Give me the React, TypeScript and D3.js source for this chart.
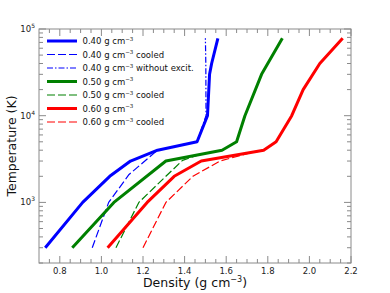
import React from "react";
import * as d3 from "d3";

// density (g cm^-3) vs temperature (K)
const blue = [[0.73, 300], [0.91, 1000], [1.04, 2000], [1.14, 3000], [1.27, 4000], [1.46, 5000], [1.51, 10000], [1.52, 30000], [1.53, 40000], [1.56, 78000]];
const blueCooled = [[0.956, 300], [1.035, 1000], [1.133, 2100], [1.27, 4000]];
const blueNoExcit = [[1.46, 5000], [1.503, 10000], [1.502, 40000], [1.5, 78000]];
const green = [[0.86, 300], [1.06, 1000], [1.31, 3000], [1.58, 4000], [1.65, 5000], [1.69, 10000], [1.77, 30000], [1.87, 78000]];
const greenCooled = [[1.07, 300], [1.18, 1000], [1.31, 2000], [1.39, 3050], [1.47, 3550], [1.58, 4000]];
const red = [[1.03, 300], [1.22, 1000], [1.35, 2000], [1.48, 3000], [1.78, 4000], [1.84, 5000], [1.915, 10000], [1.97, 20000], [2.05, 40000], [2.16, 78000]];
const redCooled = [[1.2, 300], [1.31, 1000], [1.44, 2000], [1.57, 3000], [1.7, 3650], [1.78, 4000]];

const legendLabels = ["0.40 g cm", "0.40 g cm", "0.40 g cm", "0.50 g cm", "0.50 g cm", "0.60 g cm", "0.60 g cm"];
const legendSuffix = ["", " cooled", " without excit.", "", " cooled", "", " cooled"];
const xTicks = [0.8, 1.0, 1.2, 1.4, 1.6, 1.8, 2.0, 2.2];
const yTicks = [3, 4, 5];

const W = 390, H = 293;
const m = { left: 39, right: 39, top: 29, bottom: 30 };

export default function App() {
  const x = d3.scaleLinear().domain([0.7, 2.2]).range([m.left, W - m.right]);
  const y = d3.scaleLog().domain([200, 1e5]).range([H - m.bottom, m.top]);
  const line = d3.line<number[]>().x((d) => x(d[0])).y((d) => y(d[1]));

  const series = [
    { data: blue, color: "#0000ff", w: 3, dash: "none" },
    { data: blueCooled, color: "#0000ff", w: 1.2, dash: "8,3" },
    { data: blueNoExcit, color: "#0000ff", w: 1.2, dash: "6,2,1.5,2" },
    { data: green, color: "#008000", w: 3, dash: "none" },
    { data: greenCooled, color: "#008000", w: 1.2, dash: "8,3" },
    { data: red, color: "#ff0000", w: 3, dash: "none" },
    { data: redCooled, color: "#ff0000", w: 1.2, dash: "8,3" },
  ];

  const x0 = m.left, x1 = W - m.right, y0 = m.top, y1 = H - m.bottom;
  const axisColor = "#8a8a8a";

  const xMinor = d3.range(0.75, 2.2, 0.05).filter((v) => Math.abs(v * 5 - Math.round(v * 5)) > 0.01);
  const yMinor: number[] = [];
  [100, 1000, 10000].forEach((b) => {
    for (let k = 2; k <= 9; k++) if (b * k >= 200) yMinor.push(b * k);
  });

  return (
    <div style={{ position: "absolute", left: 0, top: 0 }}>
      <svg width={W} height={H} style={{ display: "block", background: "#fff" }} fontFamily="DejaVu Sans, sans-serif">
        {/* ticks */}
        <g stroke={axisColor} strokeWidth={1}>
          {xTicks.map((t) => (
            <g key={"xt" + t}>
              <line x1={x(t)} x2={x(t)} y1={y1} y2={y1 - 7} />
              <line x1={x(t)} x2={x(t)} y1={y0} y2={y0 + 7} />
            </g>
          ))}
          {xMinor.map((t) => (
            <g key={"xm" + t}>
              <line x1={x(t)} x2={x(t)} y1={y1} y2={y1 - 4} />
              <line x1={x(t)} x2={x(t)} y1={y0} y2={y0 + 4} />
            </g>
          ))}
          {yTicks.map((t) => (
            <g key={"yt" + t}>
              <line x1={x0} x2={x0 + 7} y1={y(10 ** t)} y2={y(10 ** t)} />
              <line x1={x1} x2={x1 - 7} y1={y(10 ** t)} y2={y(10 ** t)} />
            </g>
          ))}
          {yMinor.map((t) => (
            <g key={"ym" + t}>
              <line x1={x0} x2={x0 + 4} y1={y(t)} y2={y(t)} />
              <line x1={x1} x2={x1 - 4} y1={y(t)} y2={y(t)} />
            </g>
          ))}
        </g>

        {/* data */}
        {series.map((s, i) => (
          <path key={i} d={line(s.data) || ""} fill="none" stroke={s.color} strokeWidth={s.w}
            strokeDasharray={s.dash} strokeLinejoin="round" />
        ))}

        {/* frame */}
        <rect x={x0} y={y0} width={x1 - x0} height={y1 - y0} fill="none" stroke={axisColor} strokeWidth={1} />

        {/* tick labels */}
        {xTicks.map((t) => (
          <text key={"xl" + t} x={x(t)} y={y1 + 11} fontSize={8.5} textAnchor="middle" fill="#222">{t.toFixed(1)}</text>
        ))}
        {yTicks.map((t) => (
          <text key={"yl" + t} x={x0 - 4} y={y(10 ** t) + 3} fontSize={8.5} textAnchor="end" fill="#222">
            10<tspan fontSize={6} dy={-4}>{t}</tspan>
          </text>
        ))}

        {/* axis titles */}
        <text x={(x0 + x1) / 2} y={287} fontSize={12.5} textAnchor="middle" fill="#111">
          Density (g cm<tspan fontSize={8} dy={-5}>−3</tspan><tspan dy={5}>)</tspan>
        </text>
        <text transform={`translate(16,${(y0 + y1) / 2}) rotate(-90)`} fontSize={12.5} textAnchor="middle" fill="#111">
          Temperature (K)
        </text>

        {/* legend */}
        {series.map((s, i) => {
          const ly = 41 + i * 13.5;
          return (
            <g key={"lg" + i}>
              <line x1={47} x2={77} y1={ly} y2={ly} stroke={s.color} strokeWidth={s.w} strokeDasharray={s.dash} />
              <text x={82.5} y={ly + 3} fontSize={8.5} fill="#111">
                {legendLabels[i]}<tspan fontSize={5.5} dy={-3.5}>−3</tspan><tspan dy={3.5}>{legendSuffix[i]}</tspan>
              </text>
            </g>
          );
        })}
      </svg>
    </div>
  );
}
